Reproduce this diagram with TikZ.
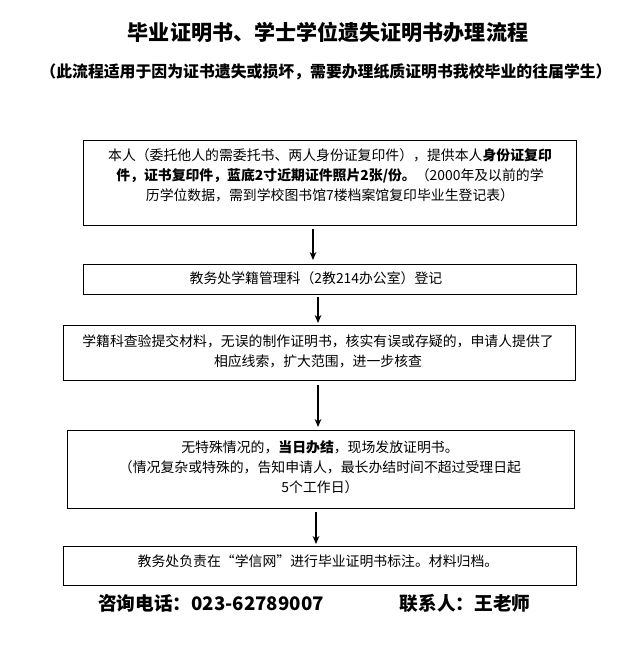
\documentclass[tikz,border=0pt]{standalone}
\usepackage{fontspec}
\setmainfont{Noto Sans CJK SC}
\usetikzlibrary{arrows.meta}
\begin{document}
\begin{tikzpicture}[x=0.75pt,y=-0.75pt,
  box/.style={draw,line width=0.6pt,inner sep=0pt},
  txt/.style={font=\fontsize{10.4}{15}\selectfont,align=center},
  arr/.style={-{Stealth[length=6pt,width=5pt]},line width=0.8pt}]
\useasboundingbox (0,0) rectangle (638,656);
\node[font=\fontsize{15.8}{18}\selectfont\bfseries] (title) at (328,32) {毕业证明书、学士学位遗失证明书办理流程};
\node[font=\fontsize{11.9}{14}\selectfont\bfseries] (sub) at (326,72) {（此流程适用于因为证书遗失或损坏，需要办理纸质证明书我校毕业的往届学生）};
\draw[box] (83,140) rectangle (576,225);
\node[txt] (t1) at (330,175) {本人（委托他人的需委托书、两人身份证复印件），提供本人\textbf{身份证复印}\\\textbf{件，证书复印件，蓝底2寸近期证件照片2张/份。}（2000年及以前的学\\历学位数据，需到学校图书馆7楼档案馆复印毕业生登记表）};
\draw[box] (83,264) rectangle (576,294);
\node[txt] (t2) at (316,278) {教务处学籍管理科（2教214办公室）登记};
\draw[box] (63,325) rectangle (575,380);
\node[txt] (t3) at (318,351) {学籍科查验提交材料，无误的制作证明书，核实有误或存疑的，申请人提供了\\相应线索，扩大范围，进一步核查};
\draw[box] (67,430) rectangle (574,508);
\node[txt] (t4) at (320,467) {无特殊情况的，\textbf{当日办结}，现场发放证明书。\\（情况复杂或特殊的，告知申请人，最长办结时间不超过受理日起\\5个工作日）};
\draw[box] (63,546) rectangle (576,585);
\node[txt] (t5) at (318,561) {教务处负责在“学信网”进行毕业证明书标注。材料归档。};
\node[font=\fontsize{14}{16}\selectfont\bfseries] (tel) at (211,603) {咨询电话：023-62789007};
\node[font=\fontsize{14}{16}\selectfont\bfseries] (who) at (465,603) {联系人：王老师};
\coordinate (a1s) at (313,229); \coordinate (a1e) at (313,260);
\coordinate (a2s) at (318,297); \coordinate (a2e) at (318,323);
\coordinate (a3s) at (318,385); \coordinate (a3e) at (318,427);
\coordinate (a4s) at (316,512); \coordinate (a4e) at (316,544);
\draw[arr] (a1s) -- (a1e);
\draw[arr] (a2s) -- (a2e);
\draw[arr] (a3s) -- (a3e);
\draw[arr] (a4s) -- (a4e);
\end{tikzpicture}
\end{document}
